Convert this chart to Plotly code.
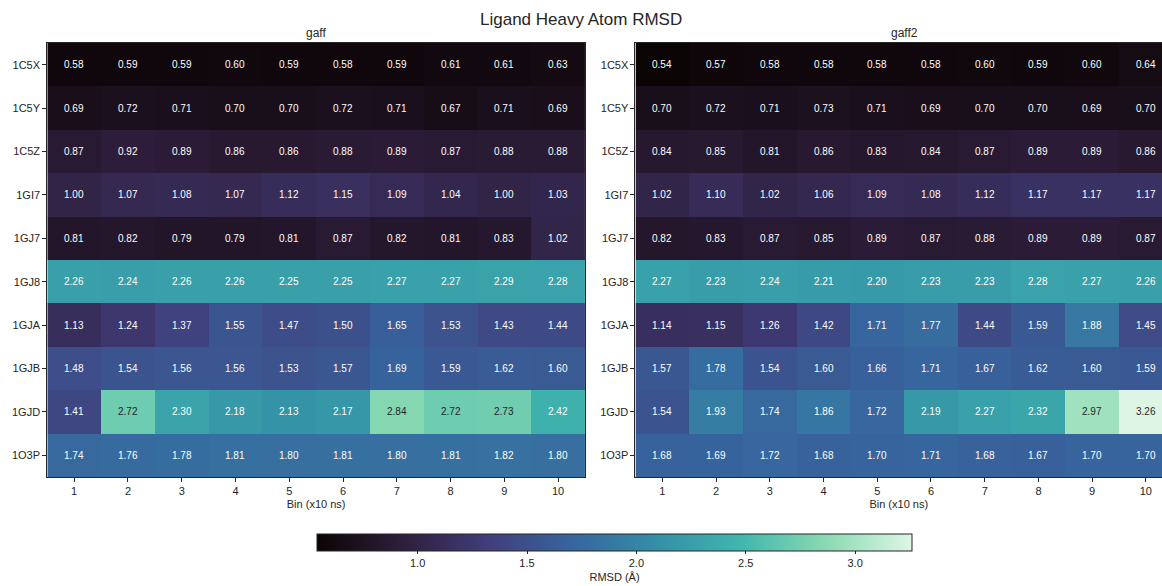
import plotly.graph_objects as go

ligands = ["1C5X", "1C5Y", "1C5Z", "1GI7", "1GJ7", "1GJ8", "1GJA", "1GJB", "1GJD", "1O3P"]
bins = [1, 2, 3, 4, 5, 6, 7, 8, 9, 10]

gaff = [
    [0.58, 0.59, 0.59, 0.60, 0.59, 0.58, 0.59, 0.61, 0.61, 0.63],
    [0.69, 0.72, 0.71, 0.70, 0.70, 0.72, 0.71, 0.67, 0.71, 0.69],
    [0.87, 0.92, 0.89, 0.86, 0.86, 0.88, 0.89, 0.87, 0.88, 0.88],
    [1.00, 1.07, 1.08, 1.07, 1.12, 1.15, 1.09, 1.04, 1.00, 1.03],
    [0.81, 0.82, 0.79, 0.79, 0.81, 0.87, 0.82, 0.81, 0.83, 1.02],
    [2.26, 2.24, 2.26, 2.26, 2.25, 2.25, 2.27, 2.27, 2.29, 2.28],
    [1.13, 1.24, 1.37, 1.55, 1.47, 1.50, 1.65, 1.53, 1.43, 1.44],
    [1.48, 1.54, 1.56, 1.56, 1.53, 1.57, 1.69, 1.59, 1.62, 1.60],
    [1.41, 2.72, 2.30, 2.18, 2.13, 2.17, 2.84, 2.72, 2.73, 2.42],
    [1.74, 1.76, 1.78, 1.81, 1.80, 1.81, 1.80, 1.81, 1.82, 1.80],
]

gaff2 = [
    [0.54, 0.57, 0.58, 0.58, 0.58, 0.58, 0.60, 0.59, 0.60, 0.64],
    [0.70, 0.72, 0.71, 0.73, 0.71, 0.69, 0.70, 0.70, 0.69, 0.70],
    [0.84, 0.85, 0.81, 0.86, 0.83, 0.84, 0.87, 0.89, 0.89, 0.86],
    [1.02, 1.10, 1.02, 1.06, 1.09, 1.08, 1.12, 1.17, 1.17, 1.17],
    [0.82, 0.83, 0.87, 0.85, 0.89, 0.87, 0.88, 0.89, 0.89, 0.87],
    [2.27, 2.23, 2.24, 2.21, 2.20, 2.23, 2.23, 2.28, 2.27, 2.26],
    [1.14, 1.15, 1.26, 1.42, 1.71, 1.77, 1.44, 1.59, 1.88, 1.45],
    [1.57, 1.78, 1.54, 1.60, 1.66, 1.71, 1.67, 1.62, 1.60, 1.59],
    [1.54, 1.93, 1.74, 1.86, 1.72, 2.19, 2.27, 2.32, 2.97, 3.26],
    [1.68, 1.69, 1.72, 1.68, 1.70, 1.71, 1.68, 1.67, 1.70, 1.70],
]

cbar_ticks = [1.0, 1.5, 2.0, 2.5, 3.0]

mako_hex = ["#0B0405", "#2E1E3B", "#413D7B", "#37659E", "#348FA7", "#40B7AD", "#8BDAB2", "#DEF5E5"]
mako = [[i / (len(mako_hex) - 1), c] for i, c in enumerate(mako_hex)]

allv = [v for row in gaff + gaff2 for v in row]
zmin, zmax = min(allv), max(allv)


def hex2rgb(h):
    h = h.lstrip("#")
    return [int(h[i:i + 2], 16) / 255 for i in (0, 2, 4)]


def color_at(v):
    t = (v - zmin) / (zmax - zmin)
    t = max(0, min(1, t))
    n = len(mako_hex) - 1
    i = min(int(t * n), n - 1)
    f = t * n - i
    a, b = hex2rgb(mako_hex[i]), hex2rgb(mako_hex[i + 1])
    return [a[k] + (b[k] - a[k]) * f for k in range(3)]


def lum(rgb):
    lin = [c / 12.92 if c <= 0.03928 else ((c + 0.055) / 1.055) ** 2.4 for c in rgb]
    return 0.2126 * lin[0] + 0.7152 * lin[1] + 0.0722 * lin[2]


fig = go.Figure()
font = "Liberation Sans, Arial, sans-serif"

for k, (data, xa, ya) in enumerate([(gaff, "x", "y"), (gaff2, "x2", "y2")]):
    fig.add_trace(go.Heatmap(
        z=data, x=bins, y=ligands, xaxis=xa, yaxis=ya,
        colorscale=mako, zmin=zmin, zmax=zmax, showscale=(k == 0),
        xgap=0, ygap=0, hoverinfo="skip",
        colorbar=dict(
            orientation="h", x=614.5 / 1162, xanchor="center", y=1 - 534 / 586, yanchor="top",
            len=595, lenmode="pixels", thickness=17, thicknessmode="pixels",
            xpad=0, ypad=0,
            outlinewidth=1, outlinecolor="#262626",
            tickvals=cbar_ticks, ticktext=[f"{t:.1f}" for t in cbar_ticks],
            ticks="outside", ticklen=3, tickcolor="#262626",
            tickfont=dict(size=11, color="#262626", family=font),
            title=dict(text="RMSD (Å)", side="bottom", font=dict(size=11, color="#262626", family=font)),
        ),
    ))
    for r, lig in enumerate(ligands):
        for c, b in enumerate(bins):
            v = data[r][c]
            col = "#262626" if lum(color_at(v)) > 0.408 else "white"
            fig.add_annotation(x=b, y=lig, xref=xa, yref=ya, text=f"{v:.2f}", showarrow=False,
                               font=dict(size=10, color=col, family=font))

axis_common = dict(ticks="outside", ticklen=4, tickcolor="#262626", showline=True, linecolor="#262626",
                   linewidth=1, showgrid=False, zeroline=False,
                   tickfont=dict(size=11, color="#262626", family=font))

fig.update_layout(
    width=1162, height=586, margin=dict(l=0, r=0, t=0, b=0, autoexpand=False),
    paper_bgcolor="white", plot_bgcolor="white",
    font=dict(family=font, color="#262626"),
    xaxis=dict(domain=[0.0407, 0.5034], range=[0.5, 10.5], tickvals=bins, mirror=True, anchor="y",
               title=dict(text="Bin (x10 ns)", font=dict(size=11), standoff=4), **axis_common),
    yaxis=dict(domain=[0.186, 0.9266], autorange="reversed", mirror=True, anchor="x", **axis_common),
    xaxis2=dict(domain=[0.5469, 1.0], range=[0.5, 10.3], tickvals=bins, mirror=True, anchor="y2",
                title=dict(text="Bin (x10 ns)", font=dict(size=11), standoff=4), **axis_common),
    yaxis2=dict(domain=[0.186, 0.9266], autorange="reversed", mirror=False, anchor="x2", **axis_common),
    annotations=list(fig.layout.annotations) + [
        dict(text="Ligand Heavy Atom RMSD", x=0.5, y=1 - 20 / 586, xref="paper", yref="paper",
             xanchor="center", yanchor="middle",
             showarrow=False, font=dict(size=17, color="#262626", family=font)),
        dict(text="gaff", x=316 / 1162, y=1 - 33 / 586, xref="paper", yref="paper",
             xanchor="center", yanchor="middle",
             showarrow=False, font=dict(size=12, color="#262626", family=font)),
        dict(text="gaff2", x=904 / 1162, y=1 - 33 / 586, xref="paper", yref="paper",
             xanchor="center", yanchor="middle",
             showarrow=False, font=dict(size=12, color="#262626", family=font)),
    ],
)

fig.write_html("out.html", post_script="document.body.style.margin='0';",
               config={"displayModeBar": False})
